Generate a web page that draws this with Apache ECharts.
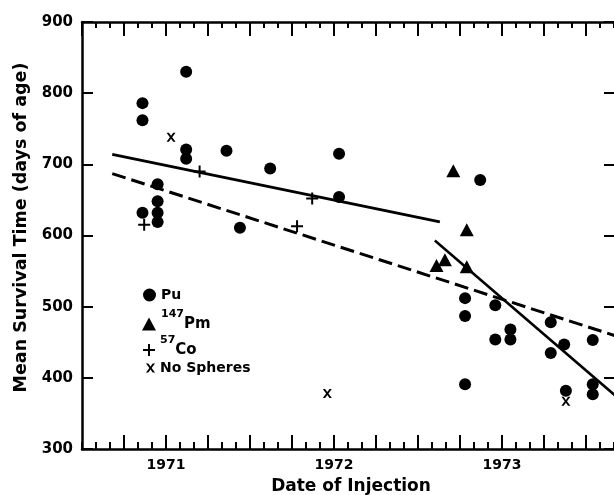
<!DOCTYPE html>
<html>
<head>
<meta charset="utf-8">
<script src="https://cdn.jsdelivr.net/npm/echarts@6/dist/echarts.min.js"></script>
<style>
html,body{margin:0;padding:0;background:#fff;}
#chart{width:614px;height:495px;}
</style>
</head>
<body>
<div id="chart"></div>
<script>
// Dates are decimal years, values are mean survival time (days of age)
const puDates = [1970.86,1970.86,1970.86, 1970.95,1970.95,1970.95,1970.95, 1971.12,1971.12,1971.12, 1971.36, 1971.44, 1971.62, 1972.03,1972.03, 1972.87, 1972.78,1972.78,1972.78, 1972.96,1972.96, 1973.05,1973.05, 1973.29,1973.29, 1973.37, 1973.38, 1973.54,1973.54,1973.54];
const puValues = [786,762,632, 672,648,632,619, 830,721,708, 719, 611, 694, 715,654, 678, 512,487,391, 502,454, 468,454, 478,435, 447, 382, 453,391,377];
const pmDates = [1972.71, 1972.79, 1972.79, 1972.66, 1972.61];
const pmValues = [691, 608, 556, 566, 558];
const coDates = [1971.20, 1971.87, 1970.87, 1971.78];
const coValues = [690, 652, 615, 613];
const noneDates = [1971.03, 1971.96, 1973.38];
const noneValues = [738, 378, 367];
// fitted regression lines (end points)
const fitEarlyDates = [1970.68, 1972.63];
const fitEarlyValues = [714, 619];
const fitAllDates = [1970.68, 1973.68];
const fitAllValues = [687, 458.7];
const fitLateDates = [1972.60, 1973.68];
const fitLateValues = [593, 373.8];
const yearLabels = ['1971', '1972', '1973'];

const BASE = 1970;
const toMonth = y => (y - BASE) * 12;
const pairs = (xs, ys) => xs.map((x, i) => [toMonth(x), ys[i]]);

const FONT = 'DejaVu Sans';
const plusPath = 'path://M5,0H7V5H12V7H7V12H5V7H0V5H5Z';
const crossPath = 'path://M0,0L2.6,0L5,3.4L7.4,0L10,0L6.3,5L10,10L7.4,10L5,6.6L2.6,10L0,10L3.7,5Z';

const xMin = 6, xMax = 44.14;
function xAxisDef(pos, interval, tickLen, showLine, showLabel) {
  return {
    type: 'value', position: pos, min: xMin, max: xMax, interval: interval,
    axisLine: {show: showLine, onZero: false, lineStyle: {color: '#000', width: 2.5}},
    axisTick: {show: true, inside: true, length: tickLen, lineStyle: {color: '#000', width: 2}},
    axisLabel: {
      show: showLabel, margin: 9, color: '#000', fontFamily: FONT, fontWeight: 'bold', fontSize: 14,
      showMinLabel: false, showMaxLabel: false, hideOverlap: false,
      formatter: v => {
        if (Math.abs(v % 12) < 1e-6) {
          const idx = v / 12 - 1;
          return yearLabels[idx] !== undefined ? yearLabels[idx] : '';
        }
        return '';
      }
    },
    splitLine: {show: false}
  };
}

const chart = echarts.init(document.getElementById('chart'), null, {renderer: 'canvas'});
const legendText = {color: '#000', fontFamily: FONT, fontWeight: 'bold', fontSize: 14,
  rich: {
    s: {fontSize: 11, fontFamily: FONT, fontWeight: 'bold', color: '#000', lineHeight: 11, verticalAlign: 'top'},
    b: {fontSize: 15, fontFamily: FONT, fontWeight: 'bold', color: '#000', lineHeight: 30}
  }
};
const option = {
  backgroundColor: '#fff',
  animation: false,
  grid: {left: 82, right: -2, top: 22, bottom: 46, containLabel: false, outerBoundsMode: 'none'},
  xAxis: [
    Object.assign(xAxisDef('bottom', 3, 14, true, true), {
      name: 'Date of Injection', nameLocation: 'middle', nameGap: 29,
      nameTextStyle: {color: '#000', fontFamily: FONT, fontWeight: 'bold', fontSize: 17, padding: [0, 0, 0, 4]}
    }),
    xAxisDef('bottom', 1, 7, false, false),
    xAxisDef('top', 3, 14, true, false),
    xAxisDef('top', 1, 6, false, false)
  ],
  yAxis: [
    {
      type: 'value', position: 'left', min: 300, max: 900, interval: 100,
      name: 'Mean Survival Time (days of age)', nameLocation: 'middle', nameGap: 48,
      nameTextStyle: {color: '#000', fontFamily: FONT, fontWeight: 'bold', fontSize: 17.5, padding: [0, 0, 0, 16]},
      axisLine: {show: true, lineStyle: {color: '#000', width: 2.5}},
      axisTick: {show: true, inside: true, length: 11, lineStyle: {color: '#000', width: 2}},
      axisLabel: {margin: 9, color: '#000', fontFamily: FONT, fontWeight: 'bold', fontSize: 15},
      splitLine: {show: false}
    },
    {
      type: 'value', position: 'right', min: 300, max: 900, interval: 100,
      axisLine: {show: false},
      axisTick: {show: true, inside: true, length: 12, lineStyle: {color: '#000', width: 2}},
      axisLabel: {show: false},
      splitLine: {show: false}
    }
  ],
  legend: [
    {data: ['Pu'], left: 143, top: 288, padding: 0, itemWidth: 13, itemHeight: 13, selectedMode: false, textStyle: legendText, itemStyle: {color: '#000'}},
    {data: ['147Pm'], left: 142, top: 309, padding: 0, itemWidth: 14, itemHeight: 13, selectedMode: false, textStyle: legendText,
      formatter: () => '{s|147}{b|Pm}'},
    {data: ['57Co'], left: 143, top: 335, padding: 0, itemWidth: 12, itemHeight: 12, selectedMode: false, textStyle: legendText,
      formatter: () => '{s|57}{b|Co}'},
    {data: ['No Spheres'], left: 146, top: 361, padding: 0, itemWidth: 9, itemHeight: 9, selectedMode: false, textStyle: legendText}
  ],
  series: [
    {name: 'fitEarly', type: 'line', data: pairs(fitEarlyDates, fitEarlyValues), showSymbol: false, symbol: 'none', silent: true,
      lineStyle: {color: '#000', width: 2.8}, clip: true, z: 1},
    {name: 'fitAll', type: 'line', data: pairs(fitAllDates, fitAllValues), showSymbol: false, symbol: 'none', silent: true,
      lineStyle: {color: '#000', width: 3, type: [14, 6]}, clip: true, z: 1},
    {name: 'fitLate', type: 'line', data: pairs(fitLateDates, fitLateValues), showSymbol: false, symbol: 'none', silent: true,
      lineStyle: {color: '#000', width: 2.5}, clip: true, z: 1},
    {name: 'Pu', type: 'scatter', data: pairs(puDates, puValues), symbol: 'circle', symbolSize: 12,
      itemStyle: {color: '#000', opacity: 1}, z: 3},
    {name: '147Pm', type: 'scatter', data: pairs(pmDates, pmValues), symbol: 'triangle', symbolSize: [14, 13],
      itemStyle: {color: '#000', opacity: 1}, z: 3},
    {name: '57Co', type: 'scatter', data: pairs(coDates, coValues), symbol: plusPath, symbolSize: 12,
      itemStyle: {color: '#000', opacity: 1}, z: 3},
    {name: 'No Spheres', type: 'scatter', data: pairs(noneDates, noneValues), symbol: crossPath, symbolSize: 9,
      itemStyle: {color: '#000', opacity: 1}, z: 3}
  ]
};
chart.setOption(option);
</script>
</body>
</html>
